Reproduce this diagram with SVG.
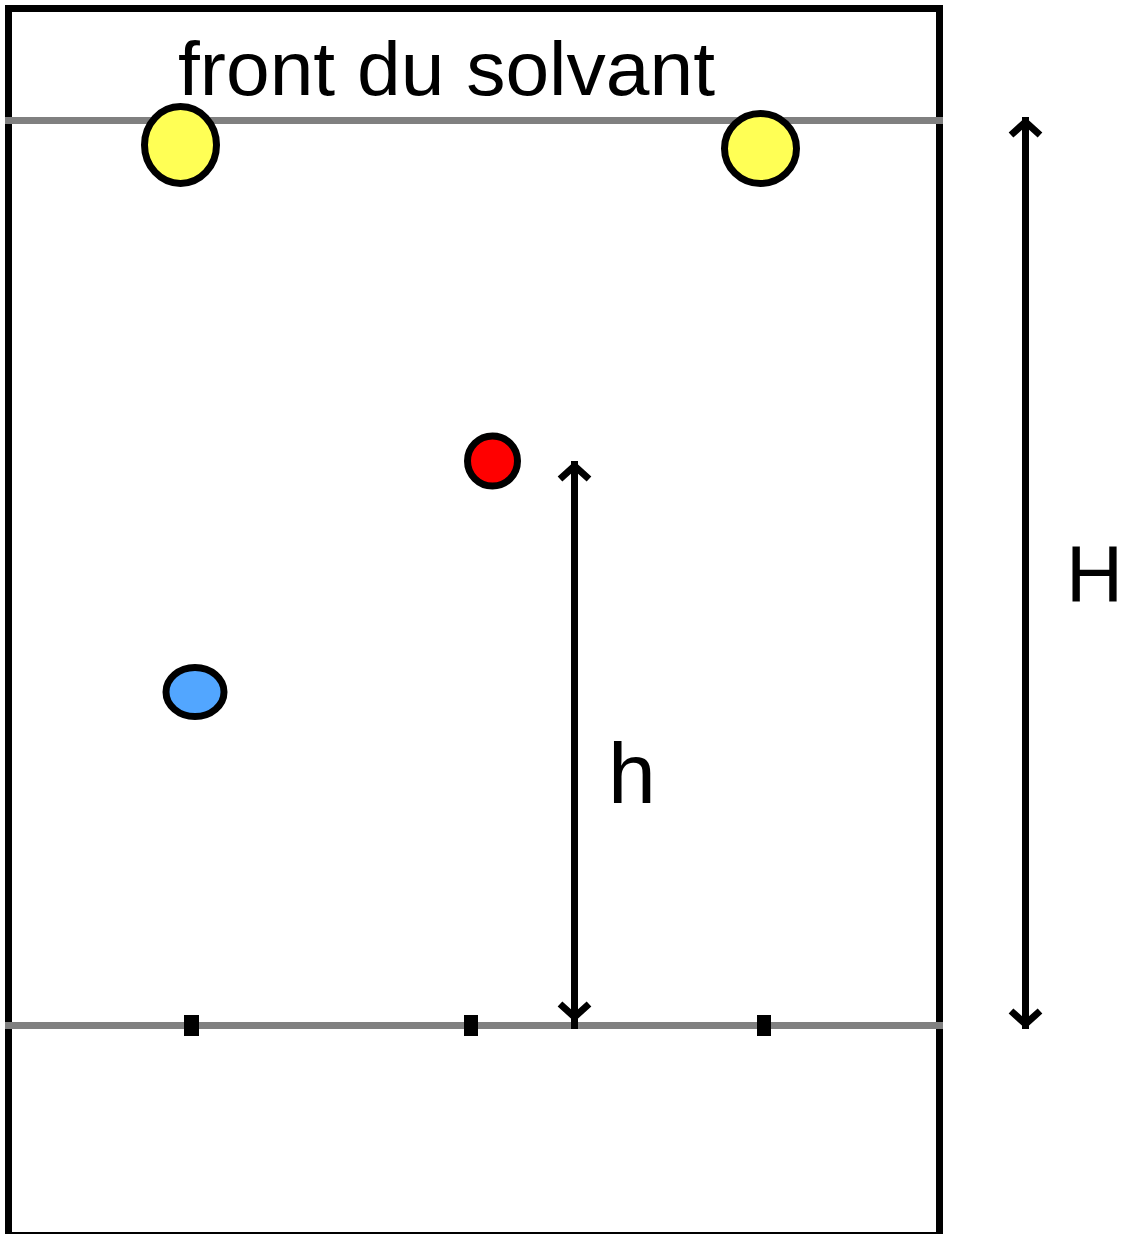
<svg xmlns="http://www.w3.org/2000/svg" width="1124" height="1234" viewBox="0 0 1124 1234">
  <style>
    .plate { fill: #ffffff; stroke: #000000; stroke-width: 7; }
    .line { stroke: #808080; stroke-width: 7; }
    .spot { stroke: #000000; stroke-width: 7; }
    .tick { fill: #000000; }
    .arrow { stroke: #000000; stroke-width: 7; fill: none; }
    .head { stroke: #000000; stroke-width: 7; fill: none; stroke-linejoin: miter; }
    .lbl { font-family: "Liberation Sans", Arial, sans-serif; fill: #000000; }
  </style>
  <rect width="1124" height="1234" fill="#ffffff"/>
  <g id="plate">
    <rect class="plate" x="8.5" y="8.5" width="931" height="1227"/>
  </g>
  <g id="solvent-front">
    <line class="line" x1="5" y1="120.5" x2="943" y2="120.5"/>
    <text class="lbl" x="178" y="95" font-size="76" textLength="537" lengthAdjust="spacingAndGlyphs">front du solvant</text>
  </g>
  <g id="start-line">
    <line class="line" x1="5" y1="1025.5" x2="943" y2="1025.5"/>
    <rect class="tick" x="184" y="1015" width="15" height="21"/>
    <rect class="tick" x="464" y="1015" width="14" height="21"/>
    <rect class="tick" x="757" y="1015" width="14" height="21"/>
  </g>
  <g id="spot-yellow-1">
    <ellipse class="spot" cx="180.5" cy="145" rx="36" ry="38.5" fill="#ffff55"/>
  </g>
  <g id="spot-yellow-2">
    <ellipse class="spot" cx="760.5" cy="148.5" rx="36" ry="35" fill="#ffff55"/>
  </g>
  <g id="spot-red">
    <ellipse class="spot" cx="492.5" cy="461" rx="25" ry="25" fill="#ff0000"/>
  </g>
  <g id="spot-blue">
    <ellipse class="spot" cx="195" cy="692" rx="29" ry="24.5" fill="#52a6ff"/>
  </g>
  <g id="connectors">
    <g id="arrow-h">
      <line class="arrow" x1="574.5" y1="461" x2="574.5" y2="1029"/>
      <polyline class="head" points="560,479 574.5,466 589,479"/>
      <polyline class="head" points="560,1004 574.5,1017 589,1004"/>
    </g>
    <g id="arrow-H">
      <line class="arrow" x1="1025.5" y1="117" x2="1025.5" y2="1029"/>
      <polyline class="head" points="1011,135 1025.5,122 1040,135"/>
      <polyline class="head" points="1011,1011 1025.5,1024 1040,1011"/>
    </g>
  </g>
  <g id="label-h">
    <text class="lbl" x="608" y="803" font-size="86">h</text>
  </g>
  <g id="label-H">
    <text class="lbl" x="1066" y="601" font-size="79">H</text>
  </g>
</svg>
